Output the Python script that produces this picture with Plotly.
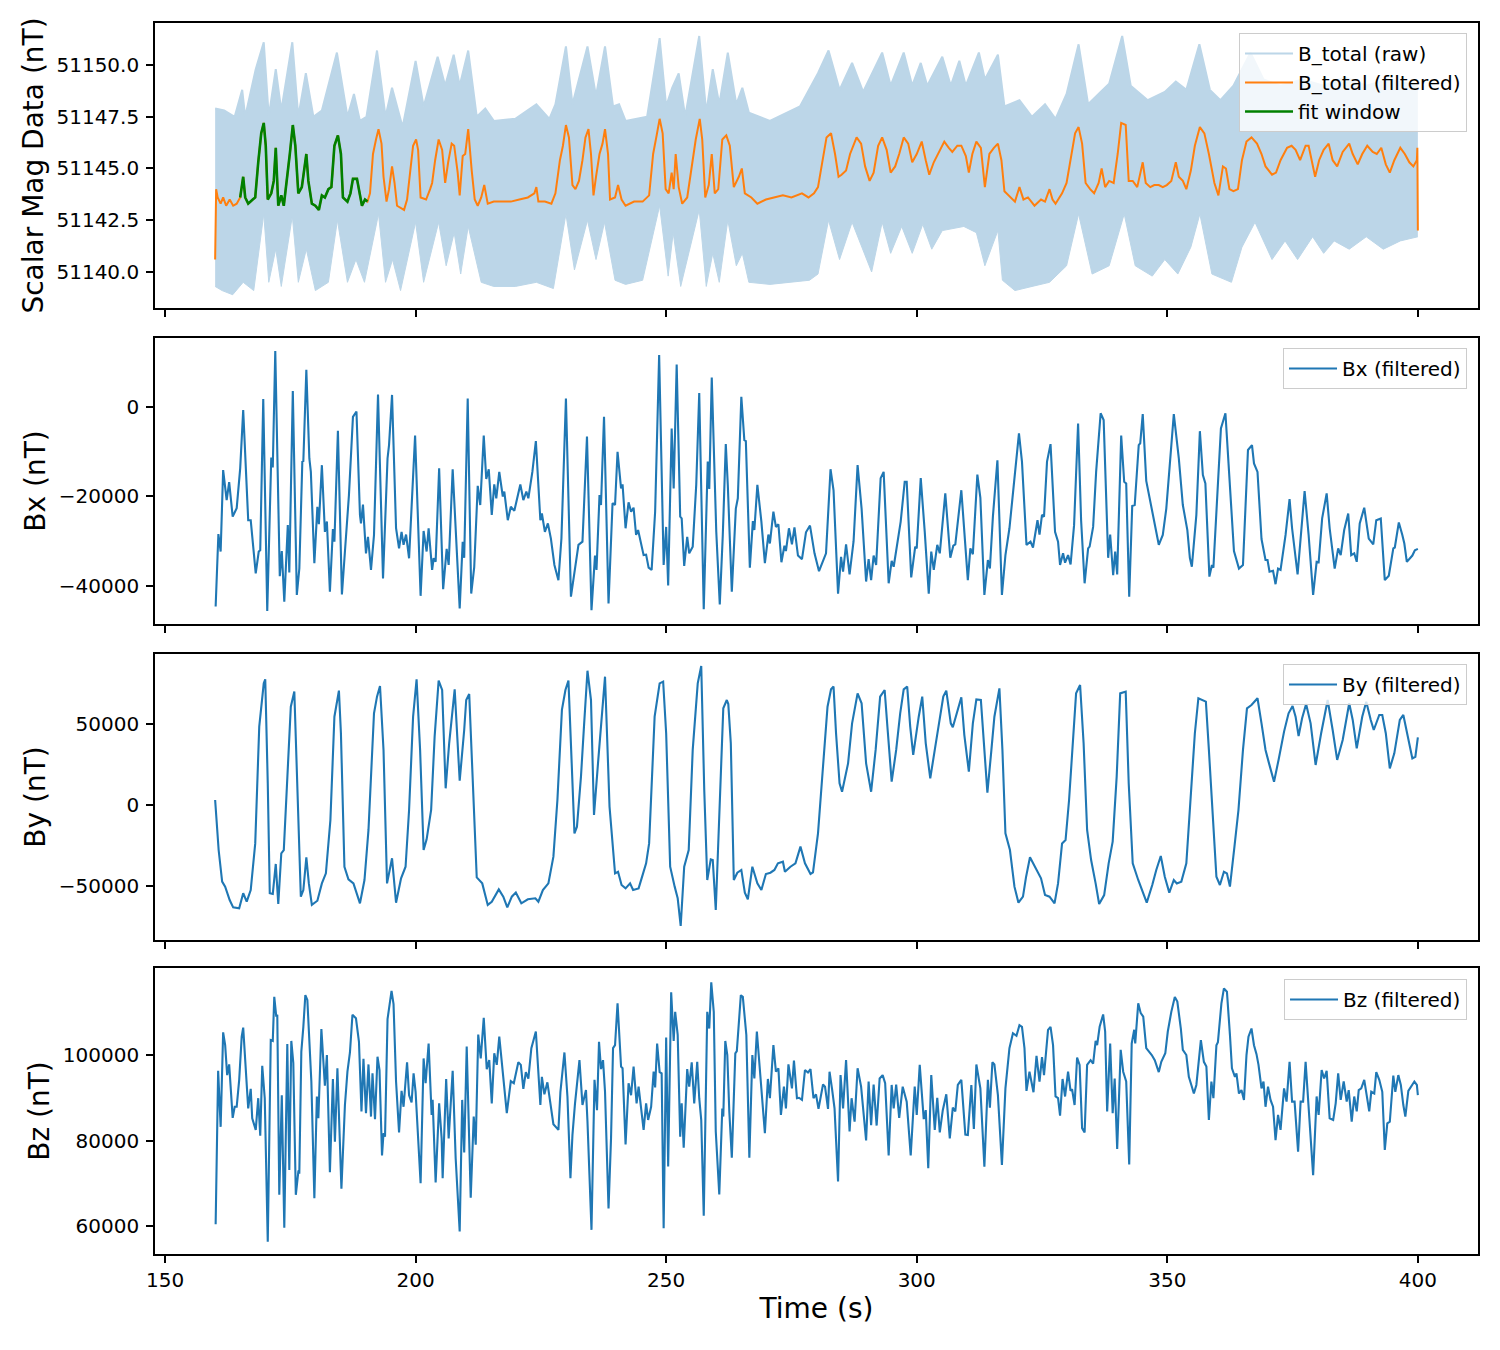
import plotly.graph_objects as go

# ---------------- data ----------------
time_ticks = [150, 200, 250, 300, 350, 400]

btotal_raw_upper = [(160.0,51147.9),(161.8,51147.8),(163.9,51147.5),(165.4,51148.8),(166.0,51147.5),(168.1,51149.8),(169.7,51151.1),(170.7,51147.5),(172.1,51149.8),(173.2,51147.8),(175.4,51151.1),(176.6,51147.5),(178.1,51149.6),(179.6,51147.5),(181.3,51147.8),(184.3,51150.6),(186.4,51147.5),(187.7,51148.6),(188.9,51147.3),(190.2,51147.5),(192.3,51150.7),(194.0,51147.5),(195.3,51148.9),(197.4,51147.0),(200.0,51150.2),(201.6,51148.0),(204.4,51150.4),(205.9,51149.0),(207.6,51150.5),(208.8,51149.0),(210.5,51150.7),(212.2,51147.5),(213.9,51147.9),(215.6,51147.3),(219.9,51147.4),(224.1,51148.1),(226.7,51147.4),(227.9,51148.1),(230.0,51150.9),(231.3,51148.1),(234.3,51150.9),(236.0,51148.5),(237.8,51150.9),(239.4,51148.0),(240.6,51148.1),(241.9,51147.3),(246.2,51147.5),(248.7,51151.3),(250.0,51148.0),(251.2,51148.9),(252.5,51149.6),(253.8,51147.5),(256.6,51151.4),(258.0,51147.7),(259.3,51149.8),(260.6,51148.1),(262.3,51150.6),(264.0,51148.1),(265.2,51148.9),(266.5,51147.7),(270.7,51147.3),(276.7,51148.0),(280.3,51149.6),(282.4,51150.7),(284.6,51148.8),(287.1,51150.1),(289.3,51148.7),(293.1,51150.6),(294.8,51149.0),(297.4,51150.6),(299.1,51149.0),(300.8,51150.1),(302.1,51149.0),(305.1,51150.4),(306.8,51149.0),(308.5,51150.2),(309.8,51149.0),(312.4,51150.6),(313.6,51149.3),(316.2,51150.5),(317.5,51148.0),(320.5,51148.3),(323.0,51147.5),(325.6,51148.1),(327.7,51147.4),(329.9,51148.6),(332.3,51151.0),(334.2,51148.1),(336.7,51148.7),(338.4,51149.1),(341.0,51151.4),(342.7,51149.0),(346.1,51148.3),(349.5,51148.7),(351.7,51149.2),(353.8,51148.8),(356.4,51151.0),(358.5,51148.8),(360.6,51148.3),(363.2,51149.0),(366.6,51150.6),(369.2,51149.3),(372.6,51149.0),(376.9,51149.3),(381.2,51149.0),(385.4,51149.4),(389.7,51149.0),(394.0,51149.3),(400.0,51149.0)]

btotal_raw_lower = [(160.0,51139.3),(161.4,51139.1),(163.5,51138.9),(165.6,51139.5),(167.7,51139.1),(169.7,51142.8),(170.7,51139.5),(172.1,51141.1),(173.2,51139.3),(175.4,51142.7),(176.6,51139.5),(178.2,51141.1),(180.0,51139.1),(182.6,51139.5),(184.4,51142.5),(186.4,51139.5),(188.1,51140.6),(189.8,51139.5),(192.6,51142.8),(194.0,51139.5),(195.4,51140.6),(197.0,51139.1),(200.0,51142.4),(201.6,51139.5),(204.6,51142.4),(206.1,51140.3),(207.7,51141.9),(209.0,51139.9),(210.5,51142.2),(213.1,51139.5),(215.6,51139.3),(219.9,51139.3),(224.1,51139.5),(227.5,51139.2),(230.0,51142.8),(231.7,51140.1),(234.3,51142.5),(236.0,51140.6),(237.7,51142.4),(239.8,51139.6),(241.9,51139.4),(245.3,51139.6),(248.7,51143.2),(250.4,51139.8),(251.4,51141.9),(252.9,51139.3),(256.6,51143.0),(258.0,51139.3),(259.3,51140.9),(260.6,51139.5),(262.3,51142.5),(264.0,51140.3),(265.2,51140.9),(266.5,51139.5),(270.7,51139.4),(275.0,51139.5),(278.6,51139.6),(280.3,51139.9),(282.4,51142.5),(284.6,51140.6),(287.1,51142.4),(291.0,51140.0),(293.1,51142.4),(294.8,51140.9),(297.0,51142.2),(299.1,51140.9),(301.2,51142.3),(303.0,51141.1),(305.1,51142.0),(309.4,51142.2),(311.9,51141.9),(313.6,51140.3),(316.2,51142.0),(317.1,51139.6),(319.6,51139.1),(323.0,51139.3),(326.5,51139.5),(329.9,51140.3),(332.3,51142.8),(335.0,51139.9),(338.4,51140.3),(341.4,51142.8),(343.6,51140.3),(347.0,51139.8),(349.5,51140.6),(352.1,51139.9),(354.7,51141.2),(356.5,51142.8),(358.9,51139.9),(362.8,51139.5),(364.9,51141.2),(367.5,51142.4),(370.9,51140.6),(373.5,51141.5),(376.0,51140.6),(379.0,51141.7),(381.2,51140.9),(383.3,51141.5),(386.3,51141.1),(389.7,51141.7),(393.1,51141.1),(396.5,51141.5),(400.0,51141.7)]

btotal_filtered = [(160.0,51140.6),(160.2,51144.0),(160.5,51143.6),(161.1,51143.3),(161.6,51143.6),(162.2,51143.2),(162.9,51143.5),(163.6,51143.2),(164.3,51143.3),(165.0,51143.6),(165.6,51144.6),(166.0,51143.6),(166.6,51143.3),(167.5,51143.5),(168.0,51143.6),(168.6,51145.3),(169.2,51146.7),(169.7,51147.2),(170.1,51146.1),(170.5,51143.5),(171.2,51143.8),(171.7,51144.4),(172.1,51146.0),(172.6,51143.2),(173.2,51143.7),(173.7,51143.2),(174.5,51145.1),(174.9,51145.7),(175.5,51147.1),(176.0,51146.1),(176.6,51143.8),(177.3,51144.1),(178.2,51145.7),(178.6,51144.4),(179.3,51143.3),(180.0,51143.2),(180.7,51143.0),(181.3,51143.7),(181.9,51143.6),(182.6,51144.0),(183.2,51144.1),(183.8,51146.1),(184.5,51146.6),(185.1,51145.7),(185.5,51143.6),(186.4,51143.4),(187.0,51143.8),(187.5,51144.5),(188.3,51144.5),(188.9,51143.6),(189.3,51143.2),(189.9,51143.5),(190.4,51143.4),(190.9,51143.8),(191.5,51145.7),(192.1,51146.4),(192.6,51146.9),(193.2,51146.2),(193.6,51144.6),(194.2,51143.4),(194.7,51144.0),(195.3,51145.1),(195.8,51144.3),(196.3,51143.2),(197.0,51143.1),(197.7,51143.0),(198.3,51143.5),(198.9,51144.9),(199.5,51146.1),(200.1,51146.4),(200.5,51145.9),(201.0,51143.6),(202.1,51143.5),(202.9,51144.0),(203.3,51144.3),(203.9,51145.4),(204.6,51146.4),(205.3,51145.9),(205.9,51144.3),(206.5,51145.3),(207.2,51146.2),(207.7,51146.1),(208.4,51144.8),(208.8,51143.7),(209.4,51145.6),(209.9,51145.7),(210.5,51146.9),(211.2,51144.9),(211.8,51143.5),(212.4,51143.2),(213.1,51143.6),(213.7,51144.2),(214.4,51143.3),(215.6,51143.4),(217.3,51143.4),(219.0,51143.4),(220.7,51143.5),(222.4,51143.6),(223.7,51143.8),(224.1,51144.1),(224.5,51143.4),(225.8,51143.4),(227.1,51143.3),(227.9,51143.8),(228.8,51145.4),(229.4,51146.1),(230.0,51147.1),(230.6,51146.5),(231.3,51144.2),(231.9,51144.0),(232.6,51144.4),(233.3,51145.4),(233.9,51146.5),(234.5,51146.9),(235.0,51145.7),(235.5,51143.7),(236.0,51144.6),(236.7,51145.7),(237.3,51146.2),(237.8,51146.9),(238.4,51145.7),(238.8,51143.5),(239.8,51143.6),(240.4,51144.2),(241.1,51143.5),(241.9,51143.2),(243.6,51143.4),(245.3,51143.4),(246.6,51143.7),(247.4,51145.7),(248.1,51146.6),(248.7,51147.4),(249.3,51146.7),(249.9,51144.0),(250.5,51143.8),(251.1,51144.8),(251.5,51144.0),(251.9,51145.7),(252.5,51144.1),(253.2,51143.3),(254.2,51143.6),(255.1,51145.1),(255.9,51146.4),(256.7,51147.4),(257.2,51146.4),(257.8,51143.6),(258.5,51144.2),(259.1,51145.7),(259.7,51143.8),(260.4,51144.0),(261.2,51146.4),(262.0,51146.6),(262.7,51146.1),(263.5,51144.1),(264.5,51144.6),(265.1,51145.0),(265.7,51143.8),(267.0,51143.6),(268.2,51143.3),(269.9,51143.5),(271.6,51143.6),(273.3,51143.7),(275.0,51143.6),(277.1,51143.8),(278.4,51143.6),(279.5,51143.8),(280.3,51144.1),(281.2,51145.4),(282.0,51146.5),(282.9,51146.7),(283.7,51145.7),(284.4,51144.6),(285.0,51144.7),(285.9,51144.9),(286.7,51145.7),(288.0,51146.5),(288.9,51146.2),(289.7,51145.1),(290.6,51144.4),(291.4,51144.8),(292.3,51146.1),(293.1,51146.5),(294.0,51145.9),(294.8,51144.8),(295.7,51145.1),(296.5,51145.7),(297.4,51146.5),(298.3,51146.2),(299.1,51145.3),(300.0,51145.7),(301.0,51146.3),(301.8,51145.4),(302.5,51144.7),(303.4,51145.3),(304.2,51145.7),(305.5,51146.3),(306.4,51146.0),(307.1,51145.8),(308.1,51146.1),(308.9,51146.1),(309.8,51145.6),(310.4,51144.8),(311.1,51145.7),(311.9,51146.3),(312.8,51146.0),(313.6,51144.1),(314.5,51145.7),(315.4,51146.0),(316.2,51146.2),(316.9,51145.4),(317.5,51143.9),(318.8,51143.6),(319.6,51143.4),(320.5,51144.1),(321.3,51143.5),(322.2,51143.6),(323.5,51143.2),(324.8,51143.5),(325.6,51143.4),(326.5,51144.0),(327.1,51143.5),(327.7,51143.3),(329.0,51143.8),(329.9,51144.3),(330.9,51145.7),(331.6,51146.7),(332.3,51147.0),(333.0,51146.2),(333.7,51144.3),(334.6,51144.0),(335.4,51143.8),(336.3,51144.3),(336.9,51145.0),(337.6,51144.1),(338.4,51144.4),(339.3,51144.3),(340.1,51145.7),(340.8,51147.2),(341.7,51147.1),(342.3,51144.4),(343.1,51144.4),(344.0,51144.1),(345.1,51145.3),(345.7,51144.3),(346.6,51144.1),(347.4,51144.2),(348.3,51144.2),(349.1,51144.1),(349.9,51144.2),(350.8,51144.4),(351.7,51145.3),(352.3,51144.6),(353.1,51144.4),(353.8,51144.0),(354.7,51144.9),(355.5,51146.1),(356.5,51147.0),(357.4,51146.7),(358.3,51145.7),(359.4,51144.3),(360.2,51143.7),(361.1,51145.1),(361.7,51145.0),(362.4,51144.0),(363.2,51143.9),(364.1,51144.0),(364.9,51145.4),(365.8,51146.3),(366.8,51146.5),(367.9,51146.2),(368.8,51145.7),(369.6,51145.1),(370.9,51144.7),(371.7,51144.8),(372.6,51145.4),(373.9,51146.0),(374.8,51146.1),(375.6,51145.9),(376.5,51145.4),(377.6,51146.1),(378.2,51146.1),(379.5,51144.6),(380.3,51145.4),(381.2,51145.9),(382.2,51146.2),(383.0,51145.4),(383.9,51145.1),(385.0,51145.8),(386.3,51146.2),(387.0,51145.7),(388.0,51145.2),(388.9,51145.7),(389.9,51146.1),(391.0,51145.8),(391.8,51145.7),(392.7,51146.0),(393.6,51145.2),(394.4,51144.8),(395.3,51145.4),(396.5,51146.0),(397.4,51145.7),(398.3,51145.3),(399.1,51145.1),(399.8,51145.4),(399.9,51146.0),(400.0,51142.0)]

fit_window = (165.0, 190.4)

bx_filtered = [(160.1,-44600),(160.65,-28400),(161.1,-32300),(161.6,-14100),(162.3,-20800),(162.8,-16800),(163.5,-24500),(164.3,-22600),(165.0,-13700),(165.6,-700),(166.6,-25300),(167.1,-25300),(168.1,-37200),(168.7,-32300),(169.0,-32000),(169.6,1800),(170.4,-45600),(171.2,-11300),(171.5,-13500),(172.0,12500),(172.9,-37800),(173.3,-32200),(173.8,-43500),(174.5,-26400),(174.8,-37000),(175.5,3600),(176.3,-42000),(176.8,-36100),(177.4,-12200),(177.6,-12100),(178.2,8300),(178.8,-11500),(179.1,-14500),(179.8,-34900),(180.4,-22300),(180.7,-26200),(181.3,-13000),(181.9,-27900),(182.3,-25600),(182.9,-41300),(183.5,-27300),(183.8,-30100),(184.5,-5300),(185.3,-41900),(185.9,-32300),(186.7,-19700),(187.5,-2200),(188.2,-1000),(188.9,-24100),(189.1,-26000),(189.5,-21800),(190.1,-32700),(190.5,-29000),(191.1,-36400),(191.7,-28600),(192.5,2800),(193.5,-38300),(194.4,-11500),(194.7,-8500),(195.3,2700),(196.1,-27100),(196.7,-31600),(197.2,-27900),(197.6,-30800),(198.1,-28500),(198.7,-33800),(199.9,-6400),(201.0,-42200),(201.6,-27700),(202.2,-32300),(202.6,-27100),(203.3,-36400),(203.6,-33800),(204.0,-34600),(204.7,-13700),(205.5,-40700),(206.2,-31700),(206.6,-35300),(207.4,-13900),(208.8,-45000),(209.4,-30100),(209.7,-33700),(210.4,1900),(211.1,-41700),(211.7,-35800),(212.4,-17600),(212.9,-21900),(213.6,-6400),(214.1,-16100),(214.6,-13900),(215.2,-24100),(215.7,-17300),(216.1,-20400),(216.7,-14500),(217.4,-20000),(217.7,-18900),(218.4,-25300),(219.0,-22300),(219.7,-23200),(220.9,-17300),(221.5,-20800),(222.1,-18900),(222.5,-20400),(223.3,-14500),(224.0,-7600),(224.9,-25300),(225.2,-23800),(225.8,-27900),(226.4,-26000),(227.0,-29400),(227.7,-35300),(228.5,-38700),(229.1,-29400),(230.0,1900),(231.0,-42400),(231.8,-36100),(232.5,-30800),(233.3,-30100),(234.2,-6600),(235.1,-45400),(235.8,-33200),(236.1,-36400),(236.7,-19700),(237.0,-21900),(237.6,-2200),(238.5,-43900),(239.3,-21500),(239.8,-21900),(240.3,-10000),(241.0,-18200),(241.3,-17300),(241.9,-27100),(242.5,-21300),(243.0,-23400),(243.5,-22500),(244.0,-28600),(244.4,-27500),(245.5,-33100),(246.0,-33000),(246.5,-35900),(247.1,-36400),(247.8,-23400),(248.6,11600),(249.5,-35300),(250.0,-26800),(250.4,-39900),(251.1,-4800),(251.5,-18200),(252.1,9500),(252.8,-24500),(253.1,-24900),(253.6,-35500),(254.2,-29000),(254.6,-32700),(255.3,-31200),(256.0,-17400),(256.6,3100),(257.5,-45200),(258.3,-12200),(258.6,-18300),(259.1,6600),(260.0,-27900),(260.7,-44100),(261.3,-28600),(261.9,-8300),(262.3,-17400),(263.1,-41300),(263.9,-22700),(264.3,-20400),(265.0,2300),(265.6,-7400),(265.9,-7600),(266.7,-35900),(267.3,-25500),(267.6,-27500),(268.2,-17400),(269.0,-25600),(269.7,-34900),(270.4,-28500),(270.7,-30500),(271.4,-23400),(271.9,-26800),(272.4,-26200),(273.0,-34700),(273.6,-31000),(273.9,-32200),(274.5,-27100),(275.1,-30700),(275.6,-26900),(276.3,-33200),(277.1,-34000),(277.9,-28000),(278.7,-26500),(279.6,-32700),(280.5,-36700),(281.9,-32700),(282.8,-13900),(283.4,-18600),(284.3,-41700),(284.9,-33500),(285.3,-36800),(285.9,-30700),(286.6,-37400),(287.4,-30000),(288.2,-13000),(289.0,-22700),(289.9,-39000),(290.4,-34000),(290.9,-38700),(291.4,-33200),(291.9,-35300),(292.8,-15900),(293.4,-14500),(294.4,-39400),(295.0,-34400),(295.4,-35700),(296.0,-31400),(296.8,-25600),(297.6,-16700),(298.0,-16700),(298.9,-38100),(299.7,-31200),(300.0,-31600),(300.8,-15900),(301.6,-27900),(302.4,-41700),(302.9,-32300),(303.4,-36400),(304.1,-30800),(304.6,-32700),(305.7,-19300),(306.7,-33700),(307.3,-31000),(307.7,-30700),(308.9,-18600),(310.2,-38700),(310.7,-31600),(311.2,-32900),(312.1,-15100),(312.7,-20300),(313.5,-42000),(314.2,-34200),(314.6,-36100),(315.2,-24500),(316.1,-11900),(317.0,-42000),(317.7,-33100),(318.5,-27100),(320.4,-5900),(321.0,-12200),(321.9,-30800),(322.7,-30100),(323.2,-31400),(324.1,-25300),(324.5,-28500),(325.0,-24100),(325.4,-24500),(326.0,-12200),(326.7,-8300),(327.6,-27900),(328.2,-30100),(328.6,-35300),(329.2,-32700),(329.6,-34800),(330.2,-33100),(330.7,-35200),(331.4,-26400),(332.2,-3700),(332.8,-25300),(333.5,-39400),(334.2,-31600),(334.5,-31200),(335.2,-26800),(335.8,-14500),(336.7,-1400),(337.3,-2900),(338.2,-33700),(338.6,-28500),(339.2,-37600),(339.6,-32300),(340.0,-37400),(340.8,-6400),(341.4,-16700),(341.8,-17100),(342.4,-42400),(343.0,-22100),(343.5,-21900),(344.3,-8500),(344.6,-8100),(345.1,-1600),(345.8,-16500),(346.8,-22300),(348.3,-30800),(349.1,-28600),(349.8,-22700),(351.3,-1600),(352.3,-11500),(353.1,-21900),(354.0,-27500),(354.5,-33700),(354.9,-35700),(355.8,-24100),(356.5,-5400),(357.1,-15200),(357.6,-17100),(358.4,-37900),(358.9,-35300),(359.2,-35900),(359.9,-21900),(360.7,-4800),(361.6,-1400),(362.5,-18000),(363.3,-32200),(364.3,-36100),(365.1,-35300),(366.1,-9600),(366.9,-8500),(367.3,-12600),(368.0,-14500),(368.8,-29500),(369.6,-34200),(370.0,-34200),(370.4,-36800),(371.1,-36600),(371.6,-39600),(372.1,-36100),(372.6,-36400),(373.6,-28600),(374.4,-20600),(374.9,-27100),(376.0,-37400),(376.6,-29400),(377.4,-18800),(378.2,-28600),(379.1,-42000),(379.8,-34600),(380.2,-34700),(380.9,-24900),(381.8,-19300),(382.4,-27100),(383.4,-36100),(384.1,-31600),(384.6,-33100),(385.3,-27500),(386.1,-23800),(386.7,-33100),(387.3,-32700),(387.8,-34600),(388.4,-26000),(389.3,-22500),(390.2,-29400),(391.1,-30700),(391.7,-25300),(392.6,-24900),(393.4,-38700),(394.2,-37700),(395.1,-31600),(395.4,-31400),(396.2,-25800),(396.9,-28600),(397.3,-30500),(397.8,-34600),(398.4,-33800),(398.9,-33200),(399.4,-32000),(400.0,-31700)]

by_filtered = [(160.0,3100),(160.7,-27800),(161.4,-47300),(162.0,-50400),(162.9,-58700),(163.6,-63200),(164.8,-63800),(165.6,-54500),(166.3,-59700),(167.1,-52500),(168.0,-23700),(168.8,48400),(169.7,75100),(170.0,77600),(170.5,13400),(170.9,-54500),(171.5,-54900),(172.1,-36400),(172.6,-61100),(173.2,-29800),(173.7,-27800),(174.6,27800),(175.1,60700),(175.8,70000),(176.5,7200),(177.1,-56600),(177.6,-52500),(178.2,-32300),(178.7,-48400),(179.3,-61700),(180.4,-59100),(181.3,-48400),(182.1,-42200),(183.0,-9300),(183.8,54500),(184.7,70600),(185.1,44300),(185.8,-38100),(186.6,-45900),(187.6,-48400),(188.9,-60700),(189.8,-46300),(190.6,-15400),(191.7,56600),(192.3,66900),(192.9,73500),(193.6,34000),(194.3,-48400),(195.3,-32900),(196.1,-60300),(197.1,-45300),(198.0,-38100),(198.7,-3100),(199.5,54500),(200.2,77600),(200.9,34000),(201.6,-27800),(202.2,-21200),(203.1,-3100),(203.8,42200),(204.6,76800),(205.3,71000),(206.0,10300),(206.7,38100),(207.8,71400),(208.3,40100),(208.8,15000),(209.7,46300),(210.1,64800),(210.7,68500),(211.4,13400),(212.2,-44700),(213.3,-48400),(214.4,-61700),(215.2,-59700),(216.6,-52100),(217.5,-56600),(218.3,-63200),(219.2,-56600),(220.0,-54100),(221.1,-60700),(222.4,-58200),(223.9,-57600),(224.5,-59700),(225.4,-52500),(226.5,-48400),(227.5,-31900),(228.3,3100),(229.2,58700),(229.9,71000),(230.5,76800),(231.1,34000),(231.7,-17500),(232.2,-13400),(233.0,17500),(233.6,48400),(234.3,82900),(235.0,64800),(235.6,-6200),(236.4,25700),(237.0,50400),(237.8,79200),(238.7,-1000),(239.8,-42200),(240.4,-41200),(241.1,-49400),(241.9,-51500),(242.8,-48400),(243.4,-52500),(244.5,-51500),(245.1,-45300),(246.0,-36000),(246.6,-23700),(247.7,54500),(248.7,75100),(249.4,76200),(250.0,44300),(250.8,-38100),(251.7,-50400),(252.3,-57600),(252.9,-74700),(253.6,-38100),(254.5,-27800),(255.3,34000),(256.3,75100),(257.0,85800),(257.6,9300),(258.2,-46300),(258.9,-33600),(259.3,-34000),(259.9,-64800),(260.6,-7200),(261.4,59700),(262.1,64800),(262.4,62300),(262.9,38100),(263.5,-46300),(264.2,-41800),(265.0,-40100),(265.7,-54100),(266.3,-58200),(267.2,-38100),(268.2,-48400),(269.0,-52500),(269.9,-42600),(270.8,-41800),(271.6,-40100),(272.3,-36000),(273.3,-35000),(273.7,-41200),(274.8,-38100),(275.8,-36000),(276.8,-25700),(277.7,-36000),(278.8,-42600),(279.3,-41600),(280.3,-17500),(281.2,19600),(282.2,60700),(282.9,71400),(283.4,73100),(283.9,44300),(284.6,13400),(285.1,8200),(286.3,25700),(287.1,50400),(288.2,68900),(289.0,62800),(289.9,25700),(290.9,8200),(291.8,34000),(292.7,66900),(293.6,71000),(294.2,46300),(295.0,14400),(295.9,34000),(296.7,56600),(297.4,71400),(298.1,73100),(298.7,48400),(299.3,30900),(300.4,54500),(301.1,66900),(301.8,38100),(302.7,16500),(303.6,34000),(304.4,50400),(305.3,66900),(305.9,70600),(306.8,50400),(307.2,48000),(308.1,57600),(308.9,66500),(309.5,43200),(310.4,20600),(311.2,50400),(311.9,65200),(312.8,64800),(313.5,34000),(314.1,7600),(314.9,34000),(315.5,54500),(316.5,72000),(317.1,34000),(317.7,-17500),(318.6,-27800),(319.5,-50400),(320.3,-60300),(321.2,-56600),(321.8,-44700),(322.6,-32300),(323.2,-36000),(323.9,-40100),(324.8,-45300),(325.6,-55600),(326.5,-56600),(327.5,-60700),(328.2,-48400),(329.0,-23700),(329.7,-21600),(330.4,3100),(331.2,44300),(331.8,68900),(332.6,74100),(333.3,38100),(334.0,-15400),(334.8,-34000),(335.7,-48400),(336.4,-61100),(337.4,-55600),(338.3,-36000),(339.1,-22600),(339.9,17500),(340.6,68900),(341.7,70000),(342.3,13400),(343.1,-36000),(344.2,-46300),(345.1,-53500),(345.9,-60300),(347.0,-49400),(347.8,-40100),(348.7,-31500),(349.5,-44300),(350.4,-54100),(351.3,-46300),(351.9,-48400),(352.8,-47300),(353.8,-36000),(354.7,3100),(355.5,44300),(356.2,65900),(357.1,64800),(357.7,63800),(358.3,34000),(359.1,-11300),(359.8,-44300),(360.5,-49400),(361.3,-41200),(361.9,-42200),(362.5,-50400),(363.4,-25700),(364.2,-3100),(365.1,34000),(365.9,59700),(366.8,61700),(367.5,63800),(368.0,65900),(368.8,50400),(369.6,34000),(370.3,25700),(371.3,14400),(372.2,27800),(373.3,45300),(374.2,56600),(375.0,61100),(375.6,54500),(376.2,42600),(376.9,53500),(377.7,62400),(378.6,50400),(379.6,24700),(380.7,44300),(382.0,64800),(383.0,46300),(383.9,27800),(385.0,40100),(386.3,62800),(387.0,52500),(387.8,35000),(388.9,54500),(389.7,63800),(390.6,52500),(391.2,46300),(392.3,55600),(392.9,55600),(393.6,44300),(394.4,22600),(395.3,31900),(396.4,52500),(397.1,55600),(397.8,44300),(398.9,28800),(399.5,29800),(400.0,41800)]

bz_filtered = [(160.1,60400),(160.6,96300),(161.1,83200),(161.6,105300),(162.0,102300),(162.4,95300),(162.8,97800),(163.5,85300),(163.9,87900),(164.3,87900),(164.8,94200),(165.3,104300),(165.6,106400),(166.2,95300),(166.6,87500),(167.1,92100),(167.4,85200),(168.1,82500),(168.6,89900),(169.0,81100),(169.4,97500),(169.9,89900),(170.5,56300),(171.1,103500),(171.5,103300),(171.8,113600),(172.2,109000),(172.4,109400),(172.8,67300),(173.3,90600),(173.8,59600),(174.4,102600),(174.8,73100),(175.2,103300),(175.6,98100),(176.1,67300),(176.6,72700),(176.8,72600),(177.2,100800),(177.6,106600),(178.0,114000),(178.4,112900),(178.8,103100),(179.2,93800),(179.8,66500),(180.3,90300),(180.6,85200),(181.2,106100),(181.9,92800),(182.3,100000),(182.9,72600),(183.5,94400),(183.9,79700),(184.4,96900),(185.2,68700),(185.9,88300),(186.4,96100),(186.9,100600),(187.4,109400),(188.1,108600),(188.7,103100),(189.2,86800),(189.6,99100),(190.1,86400),(190.6,97800),(191.1,85600),(191.4,95700),(191.9,85000),(192.4,99600),(192.8,96500),(193.3,76500),(193.6,81700),(193.9,80900),(194.4,108400),(195.2,115000),(195.6,111900),(196.1,93800),(196.7,81900),(197.2,91600),(197.6,87900),(198.3,98300),(198.7,90600),(199.2,88900),(199.6,95700),(200.0,91400),(200.5,80500),(201.0,70000),(201.6,99200),(202.0,93400),(202.6,102700),(203.2,86000),(203.4,89500),(204.0,70200),(204.7,88700),(205.2,80500),(205.4,71200),(206.1,94400),(206.6,80500),(207.4,96300),(208.0,75800),(208.8,58700),(209.3,89500),(209.7,77200),(210.2,102000),(211.0,66600),(211.6,85600),(212.0,79000),(212.5,104800),(213.0,99200),(213.6,108700),(214.2,96700),(214.7,98800),(215.2,88700),(215.7,100400),(216.2,97700),(216.7,104300),(217.4,96100),(218.2,86400),(219.0,93900),(219.6,93400),(220.5,98300),(221.0,97700),(221.5,92100),(222.0,96000),(222.5,94500),(223.1,101600),(224.0,105500),(224.9,88300),(225.2,94900),(225.7,90800),(226.3,93600),(227.0,88300),(227.5,83800),(228.5,82500),(228.9,91400),(229.7,100600),(230.3,90300),(230.9,71200),(231.3,81300),(231.8,88500),(232.7,98800),(233.3,88300),(234.0,91800),(234.3,84400),(235.1,59100),(235.7,94200),(236.2,87100),(236.6,103100),(237.0,96700),(237.4,98800),(237.8,91400),(238.5,64100),(239.0,80500),(239.4,101600),(239.8,102300),(240.3,112100),(241.0,97300),(241.3,96900),(241.9,79100),(242.5,93400),(243.0,90600),(243.5,97300),(244.1,88700),(244.5,92600),(245.0,87500),(245.5,82500),(246.0,88700),(246.4,84800),(247.0,87900),(247.5,96100),(247.8,92400),(248.2,102700),(248.7,96000),(249.1,95700),(249.5,59500),(250.0,104100),(250.4,73900),(251.0,114700),(251.5,103300),(251.8,110100),(252.3,104700),(252.8,80900),(253.1,88700),(253.5,78300),(254.2,96700),(254.6,92600),(255.1,98300),(255.6,88700),(256.2,98400),(256.6,89900),(257.0,84800),(257.5,62400),(258.2,110100),(258.6,106200),(259.0,117000),(259.5,110100),(259.9,82100),(260.6,67400),(261.2,87500),(261.4,85600),(261.8,103300),(262.2,100000),(262.6,86800),(263.1,76000),(263.8,100400),(264.1,100900),(264.9,114000),(265.3,113600),(266.0,104700),(266.6,76000),(267.2,100000),(267.6,94500),(268.1,105500),(268.9,93000),(269.7,81700),(270.3,94400),(270.7,89900),(271.4,102300),(271.9,96100),(272.4,96900),(272.9,86000),(273.5,92600),(273.9,87500),(274.4,97800),(275.1,92200),(275.5,98700),(276.1,89900),(276.5,90000),(277.1,89500),(277.7,96500),(278.3,95900),(278.8,96700),(279.4,89900),(279.9,90800),(280.4,87400),(281.3,93100),(281.7,92600),(282.3,87400),(282.6,96100),(283.1,92100),(283.6,87500),(284.3,70400),(284.8,95300),(285.3,87500),(285.9,98800),(286.6,82100),(287.0,89900),(287.6,84400),(288.2,96900),(288.9,92600),(289.9,80000),(290.4,93800),(290.9,83600),(291.4,93100),(292.0,83500),(292.6,94500),(293.2,95300),(293.7,93400),(294.4,76500),(295.0,93000),(295.4,87500),(295.9,93100),(296.5,85300),(297.2,92600),(298.0,89100),(298.8,76500),(299.6,92600),(300.0,86000),(300.6,97700),(301.4,85000),(301.8,87100),(302.3,73500),(302.9,95300),(303.6,82500),(304.1,90000),(304.6,81900),(305.2,87100),(305.9,90800),(306.6,80500),(307.2,87700),(307.7,86800),(308.2,93000),(308.9,94200),(309.7,81400),(310.2,81300),(310.9,93000),(311.4,82700),(311.9,97800),(312.7,92200),(313.5,73900),(314.2,94200),(314.6,87700),(315.1,98300),(315.5,97800),(316.2,90600),(317.0,74300),(317.7,92200),(318.5,101600),(319.2,105100),(319.9,104500),(320.5,107000),(321.0,106600),(321.5,101600),(321.9,91600),(322.5,96100),(323.3,91300),(323.9,99800),(324.5,93800),(325.0,99500),(325.4,95300),(326.2,105900),(326.7,106600),(327.2,102300),(327.7,90300),(328.2,89900),(328.6,85800),(329.1,94400),(329.6,90300),(330.2,96100),(330.7,91600),(331.0,92000),(331.5,88300),(332.0,99400),(332.5,97700),(333.0,82900),(333.5,81900),(334.0,97700),(334.7,98800),(335.2,98000),(335.7,103300),(336.0,102300),(336.5,106600),(337.2,109500),(337.6,105500),(338.0,86800),(338.6,102700),(339.1,86400),(339.5,94500),(340.0,78000),(340.7,101200),(341.2,96100),(341.8,93800),(342.4,74400),(342.9,102700),(343.4,105900),(343.6,102700),(344.2,112100),(344.7,109800),(345.2,109000),(345.8,101600),(346.5,100600),(346.9,100000),(347.5,98800),(348.3,96000),(348.8,98400),(349.6,100400),(350.1,105500),(350.8,110100),(351.5,113600),(352.0,112500),(352.7,106200),(353.1,101200),(353.8,100000),(354.3,94900),(354.8,93000),(355.3,91000),(355.8,93000),(356.3,98400),(356.7,103500),(357.3,98400),(357.8,97300),(358.3,84800),(358.8,93800),(359.2,89900),(359.8,102300),(360.1,103000),(360.8,112100),(361.3,115600),(361.9,114800),(362.5,104700),(362.9,96900),(363.5,94900),(363.8,95700),(364.3,91000),(364.8,91800),(365.3,89500),(365.8,100000),(366.2,104300),(366.8,106200),(367.3,102300),(367.8,100200),(368.2,97700),(368.8,92200),(369.2,93800),(369.6,87900),(370.1,92600),(370.6,89500),(371.1,87900),(371.6,80100),(372.1,86000),(372.6,82500),(373.3,92200),(373.8,89100),(374.4,98400),(374.9,89100),(375.4,89100),(376.1,77400),(376.6,89100),(377.1,89100),(377.6,98400),(378.1,89100),(378.6,80500),(379.1,71900),(379.8,90300),(380.2,86000),(380.8,96500),(381.3,94500),(381.8,96300),(382.4,85200),(383.1,84800),(383.6,88700),(384.1,95700),(384.6,89500),(385.2,93800),(385.8,89100),(386.2,91800),(386.8,84400),(387.3,90300),(387.8,86800),(388.2,91800),(388.7,92200),(389.3,94200),(389.7,91000),(390.3,86800),(390.7,91400),(391.3,91000),(391.7,96000),(392.3,94200),(392.9,91400),(393.4,77800),(393.9,84000),(394.4,84400),(395.1,95200),(395.5,91400),(396.1,95300),(396.6,93000),(397.1,88300),(397.5,85600),(398.1,91600),(398.6,92400),(399.3,93800),(399.8,93000),(400.0,90600)]

# ---------------- styling ----------------
RAW = "#bcd6e8"
ORANGE = "#ff7f0e"
GREEN = "#008000"
BLUE = "#1f77b4"
FONT = "DejaVu Sans"


def unzip(pairs):
    return [p[0] for p in pairs], [p[1] for p in pairs]


fig = go.Figure()

ut, uv = unzip(btotal_raw_upper)
lt, lv = unzip(btotal_raw_lower)
fig.add_trace(go.Scatter(x=ut, y=uv, mode="lines", line=dict(color=RAW, width=2),
                         name="B_total (raw)", legend="legend", xaxis="x", yaxis="y"))
fig.add_trace(go.Scatter(x=lt, y=lv, mode="lines", line=dict(color=RAW, width=1),
                         fill="tonexty", fillcolor=RAW, showlegend=False,
                         xaxis="x", yaxis="y"))

ft, fv = unzip(btotal_filtered)
fig.add_trace(go.Scatter(x=ft, y=fv, mode="lines", line=dict(color=ORANGE, width=2),
                         name="B_total (filtered)", legend="legend", xaxis="x", yaxis="y"))
gt, gv = unzip([p for p in btotal_filtered if fit_window[0] <= p[0] <= fit_window[1]])
fig.add_trace(go.Scatter(x=gt, y=gv, mode="lines", line=dict(color=GREEN, width=2.6),
                         name="fit window", legend="legend", xaxis="x", yaxis="y"))

for pairs, name, ax, leg in [(bx_filtered, "Bx (filtered)", "2", "legend2"),
                             (by_filtered, "By (filtered)", "3", "legend3"),
                             (bz_filtered, "Bz (filtered)", "4", "legend4")]:
    t, v = unzip(pairs)
    fig.add_trace(go.Scatter(x=t, y=v, mode="lines", line=dict(color=BLUE, width=2.1),
                             name=name, legend=leg, xaxis="x" + ax, yaxis="y" + ax))

axis_common = dict(showline=True, linecolor="black", linewidth=1.6, mirror=True,
                   ticks="outside", ticklen=7, tickwidth=1.6, tickcolor="black",
                   showgrid=False, zeroline=False, automargin=False,
                   tickfont=dict(family=FONT, size=20, color="black"))

domains = {"": [0.7685, 1.0], "2": [0.5118, 0.7441], "3": [0.2551, 0.4874], "4": [0.0, 0.2323]}
yranges = {"": [51138.26, 51152.03], "2": [-48490, 15420], "3": [-83330, 93210], "4": [53450, 120350]}
ytickvals = {"": [51140.0, 51142.5, 51145.0, 51147.5, 51150.0],
             "2": [-40000, -20000, 0], "3": [-50000, 0, 50000], "4": [60000, 80000, 100000]}
ytitles = {"": "Scalar Mag Data (nT)", "2": "Bx (nT)", "3": "By (nT)", "4": "Bz (nT)"}
yformats = {"": ".1f", "2": "d", "3": "d", "4": "d"}

layout = dict(
    width=1500, height=1350,
    margin=dict(l=155, r=22, t=23, b=96),
    paper_bgcolor="white", plot_bgcolor="white",
    font=dict(family=FONT, size=20, color="black"),
    template="none",
    hovermode=False,
)

for k in ["", "2", "3", "4"]:
    layout["xaxis" + k] = dict(axis_common, domain=[0, 1], anchor="y" + k,
                               range=[148, 412], tickvals=time_ticks,
                               showticklabels=(k == "4"), ticklabelstandoff=0,
                               **({} if k == "" else {"matches": "x"}))
    layout["yaxis" + k] = dict(axis_common, domain=domains[k], anchor="x" + k,
                               range=yranges[k], tickvals=ytickvals[k],
                               tickformat=yformats[k], ticklabelstandoff=3,
                               title=dict(text=ytitles[k], standoff=5,
                                          font=dict(family=FONT, size=28, color="black")))

layout["xaxis4"]["title"] = dict(text="Time (s)", standoff=8,
                                 font=dict(family=FONT, size=28, color="black"))

legend_common = dict(xanchor="right", yanchor="top", x=0.9917,
                     bgcolor="rgba(255,255,255,0.8)", bordercolor="#cccccc", borderwidth=1,
                     font=dict(family=FONT, size=20, color="black"),
                     tracegroupgap=0, itemwidth=48, traceorder="normal")
layout["legend"] = dict(legend_common, y=0.9919)
layout["legend2"] = dict(legend_common, y=0.7360)
layout["legend3"] = dict(legend_common, y=0.4793)
layout["legend4"] = dict(legend_common, y=0.2234)

fig.update_layout(**layout)
fig.write_html("out.html")
